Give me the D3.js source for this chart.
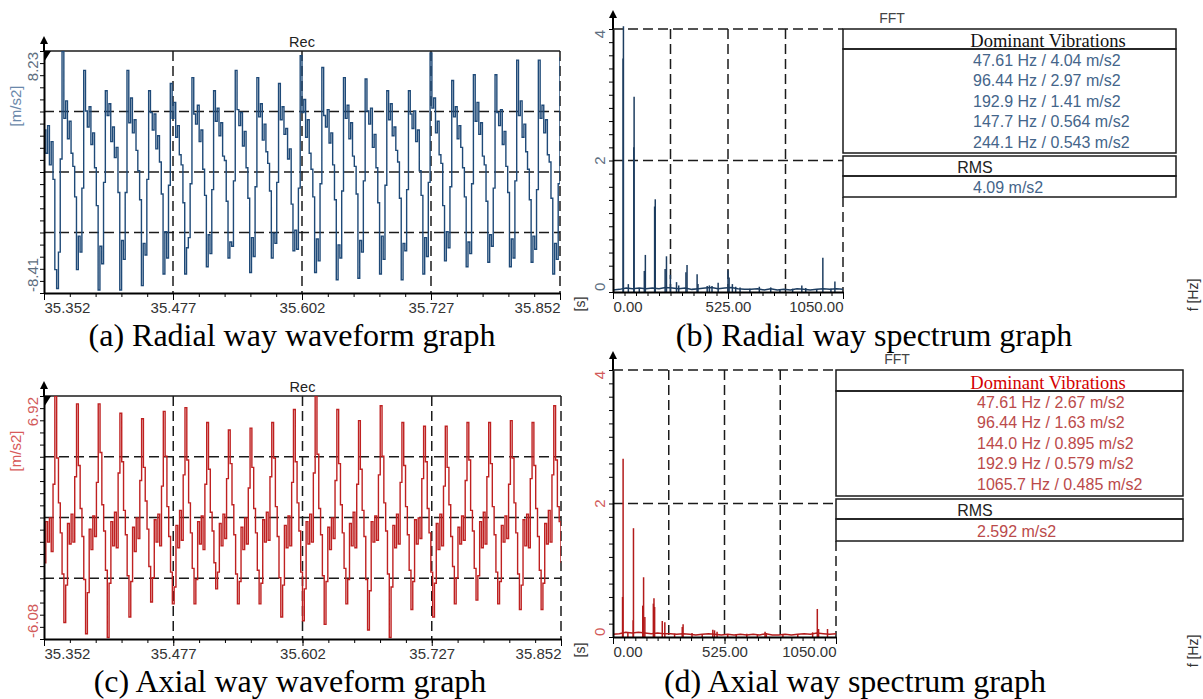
<!DOCTYPE html>
<html>
<head>
<meta charset="utf-8">
<script src="https://cdn.jsdelivr.net/npm/d3@7"></script>
<style>
  body { margin: 0; background: #fff; }
  svg { display: block; font-family: "Liberation Sans", Arial, sans-serif; }
</style>
</head>
<body>
<script>
// ---- data ----
const timeTicks = [35.352, 35.477, 35.602, 35.727, 35.852];
const freqTicks = [0, 525, 1050];

// radial acceleration, m/s2, evenly sampled over the time window
const radialWave = [
  2.8, 1.2, 3.1, 0.4, 2.0, -0.6, -6.8, -8.1, -5.6, 0.8,
  8.2, 3.6, 4.8, 2.2, 3.4, 1.2, 0.3, -1.8, -6.8, -4.5, -5.6, -1.2,
  6.9, 4.1, 3.0, 4.4, 1.8, 2.6, 0.2, -2.4, -8.2, -5.2, -6.4, -0.8,
  5.5, 3.8, 4.6, 2.0, 3.0, 0.9, 1.6, -1.5, -8.2, -4.8, -6.1, -1.5,
  6.9, 3.3, 5.0, 2.6, 3.5, 1.4, 0.0, -2.0, -7.9, -5.0, -5.8, -0.6,
  5.5, 4.0, 2.8, 3.9, 1.5, 2.4, 0.6, -1.6, -7.1, -4.2, -6.0, -1.0,
  6.0, 3.6, 4.7, 2.3, 3.1, 1.1, 0.4, -2.2, -7.1, -5.3, -4.6, -0.9,
  6.4, 3.9, 3.2, 4.5, 2.0, 2.8, 0.1, -1.7, -6.6, -4.4, -5.7, -1.3,
  5.5, 3.4, 4.3, 2.4, 3.3, 1.0, 0.7, -2.1, -6.0, -4.9, -5.2, -0.7,
  6.9, 4.2, 3.1, 4.0, 1.7, 2.7, 0.2, -1.9, -7.0, -4.6, -5.9, -1.1,
  6.4, 3.7, 4.6, 2.1, 3.2, 1.3, 0.5, -1.4, -6.0, -4.3, -5.0, -0.8,
  6.0, 3.5, 4.4, 2.5, 2.9, 0.8, 1.5, -2.3, -5.5, -4.1, -5.4, -1.2,
  7.9, 4.0, 4.9, 2.3, 3.5, 1.2, 0.1, -1.8, -7.0, -4.7, -6.2, -0.9,
  7.1, 3.8, 3.0, 4.2, 1.9, 2.6, 0.4, -2.0, -7.5, -5.1, -6.0, -1.4,
  6.4, 3.6, 4.5, 2.2, 3.3, 1.0, 0.3, -1.6, -7.4, -4.8, -5.6, -0.7,
  6.3, 4.1, 3.2, 4.3, 1.6, 2.5, 0.2, -2.2, -7.1, -4.5, -6.1, -1.0,
  5.5, 3.5, 4.6, 2.4, 3.0, 1.4, 0.6, -1.9, -7.5, -5.0, -5.5, -1.3,
  5.5, 3.9, 2.9, 4.1, 2.0, 2.8, 0.0, -1.7, -7.1, -4.6, -5.9, -0.8,
  8.1, 4.3, 5.0, 2.6, 3.4, 1.1, 0.5, -2.4, -6.2, -4.2, -5.3, -1.1,
  6.2, 3.7, 4.4, 2.2, 3.1, 1.6, 0.2, -1.8, -6.6, -4.9, -5.7, -0.9,
  6.6, 3.4, 4.7, 2.5, 3.3, 1.0, 0.4, -2.1, -6.3, -4.4, -5.2, -1.2,
  6.6, 4.0, 3.1, 4.2, 1.8, 2.7, 0.3, -1.5, -6.6, -4.7, -6.0, -0.7,
  7.6, 3.8, 4.8, 2.3, 3.2, 1.3, 0.1, -2.0, -6.3, -4.5, -5.4, -1.3,
  7.6, 3.6, 4.5, 2.6, 3.5, 1.1, 0.6, -1.9, -7.1, -5.0, -6.1, -0.9,
  7.8
];

// axial acceleration, m/s2, same sampling
const axialWave = [
  -2.0, 0.2, -0.9, 0.4, -1.4, 2.2,
  6.9, 3.6, 1.2, -0.4, -2.6, -5.2, -3.2, 0.1, -1.0, 0.6, -0.9, 2.6,
  6.5, 3.2, 0.9, -0.6, -2.9, -5.8, -3.6, -0.2, -1.3, 0.5, -0.6, 2.3,
  6.5, 3.9, 1.1, -0.3, -2.4, -6.0, -3.1, 0.2, -1.1, 0.7, -1.2, 2.8,
  6.0, 3.4, 0.8, -0.5, -2.7, -4.9, -3.0, -0.1, -1.4, 0.4, -0.7, 2.4,
  5.7, 3.1, 1.3, -0.2, -2.2, -4.1, -2.8, 0.3, -0.9, 0.6, -1.1, 2.1,
  6.1, 3.7, 1.0, -0.6, -2.5, -4.2, -3.3, 0.0, -1.2, 0.8, -0.8, 2.7,
  6.3, 3.5, 1.2, -0.4, -2.3, -4.2, -2.9, 0.2, -1.0, 0.5, -1.3, 2.2,
  5.5, 3.0, 0.7, -0.3, -2.0, -3.4, -2.5, 0.1, -1.1, 0.6, -0.7, 2.5,
  5.1, 3.3, 1.1, -0.5, -2.6, -4.2, -3.0, -0.1, -1.3, 0.4, -1.0, 2.0,
  5.2, 3.1, 0.9, -0.4, -2.4, -4.2, -3.1, 0.3, -0.9, 0.7, -0.8, 2.6,
  5.5, 3.6, 1.0, -0.6, -2.8, -4.9, -3.2, 0.0, -1.2, 0.5, -1.1, 2.3,
  6.2, 3.4, 1.2, -0.3, -2.5, -5.1, -3.4, 0.2, -1.0, 0.6, -0.9, 2.8,
  6.9, 3.8, 0.9, -0.5, -2.7, -5.3, -3.0, -0.1, -1.3, 0.4, -0.7, 2.4,
  6.2, 3.3, 1.1, -0.4, -2.3, -4.2, -2.9, 0.1, -1.1, 0.7, -1.2, 2.2,
  5.6, 3.0, 0.8, -0.6, -2.9, -5.6, -3.5, 0.2, -0.9, 0.5, -0.8, 2.7,
  6.4, 3.7, 1.2, -0.3, -2.6, -6.0, -3.3, 0.0, -1.2, 0.6, -1.0, 2.3,
  5.5, 3.2, 1.0, -0.5, -2.4, -4.5, -3.0, 0.3, -1.0, 0.4, -0.7, 2.5,
  5.3, 3.4, 0.9, -0.4, -2.5, -4.9, -3.1, 0.1, -1.3, 0.6, -1.1, 2.1,
  5.3, 3.1, 1.1, -0.6, -2.2, -4.2, -2.8, -0.1, -1.0, 0.5, -0.8, 2.4,
  5.5, 3.5, 0.8, -0.3, -2.3, -4.0, -2.7, 0.2, -1.2, 0.7, -1.0, 2.6,
  5.5, 3.3, 1.0, -0.5, -2.5, -4.2, -3.0, 0.0, -0.9, 0.5, -0.7, 2.2,
  5.6, 3.6, 1.2, -0.4, -2.6, -4.5, -3.2, 0.3, -1.1, 0.6, -1.2, 2.5,
  5.5, 3.2, 0.9, -0.6, -2.4, -4.5, -3.1, 0.1, -1.0, 0.8, -0.9, 2.7,
  6.4, 3.5, 1.0, 0.2, -2.0
];

// spectral lines: frequency (Hz) and amplitude (m/s2)
const radialPeakHz  = [46, 47.6, 70, 95, 96.4, 120, 143, 147.7, 190, 192.9, 238, 244.1, 262, 290, 300, 333, 338, 384, 388, 430, 440, 452, 480, 525, 530, 545, 560, 580, 625, 668, 720, 762, 820, 862, 880, 930, 958, 995, 1013];
const radialPeakAmp = [3.55, 4.04, 0.12, 2.2, 2.97, 0.05, 0.32, 0.564, 1.3, 1.41, 0.35, 0.543, 0.26, 0.15, 0.1, 0.3, 0.41, 0.27, 0.12, 0.09, 0.1, 0.09, 0.14, 0.33, 0.22, 0.12, 0.08, 0.07, 0.05, 0.08, 0.07, 0.04, 0.05, 0.1, 0.06, 0.04, 0.52, 0.05, 0.16];
const axialPeakHz  = [45, 47.6, 70, 95, 96.4, 140, 144, 150, 190, 192.9, 196, 232, 244, 290, 326, 330, 372, 420, 470, 478, 490, 540, 580, 630, 680, 716, 722, 800, 870, 940, 962, 968, 1010];
const axialPeakAmp = [0.6, 2.67, 0.06, 0.25, 1.63, 0.47, 0.895, 0.3, 0.5, 0.579, 0.45, 0.24, 0.22, 0.05, 0.15, 0.19, 0.06, 0.04, 0.11, 0.1, 0.08, 0.04, 0.04, 0.05, 0.04, 0.08, 0.06, 0.03, 0.04, 0.07, 0.42, 0.12, 0.12];

// noise floor, one value every 30 Hz from 0 Hz
const radialFloor = [0.03, 0.04, 0.06, 0.05, 0.06, 0.05, 0.06, 0.05, 0.07, 0.06, 0.05, 0.06, 0.04, 0.05, 0.06, 0.07, 0.05, 0.06, 0.07, 0.05, 0.04, 0.04, 0.05, 0.03, 0.05, 0.03, 0.04, 0.03, 0.05, 0.04, 0.03, 0.04, 0.05, 0.04, 0.05, 0.04];
const axialFloor  = [0.04, 0.05, 0.07, 0.06, 0.07, 0.06, 0.05, 0.06, 0.05, 0.05, 0.04, 0.05, 0.04, 0.03, 0.04, 0.05, 0.04, 0.03, 0.04, 0.03, 0.04, 0.03, 0.04, 0.03, 0.05, 0.03, 0.03, 0.04, 0.03, 0.04, 0.05, 0.04, 0.06, 0.05, 0.04, 0.05];

const radialDominant = ["47.61 Hz / 4.04 m/s2", "96.44 Hz / 2.97 m/s2", "192.9 Hz / 1.41 m/s2", "147.7 Hz / 0.564 m/s2", "244.1 Hz / 0.543 m/s2"];
const axialDominant  = ["47.61 Hz / 2.67 m/s2", "96.44 Hz / 1.63 m/s2", "144.0 Hz / 0.895 m/s2", "192.9 Hz / 0.579 m/s2", "1065.7 Hz / 0.485 m/s2"];
const radialRms = "4.09 m/s2";
const axialRms = "2.592 m/s2";
const captions = ["(a) Radial way waveform graph", "(b) Radial way spectrum graph", "(c) Axial way waveform graph", "(d) Axial way spectrum graph"];

// ---- drawing ----
const svg = d3.select('body').append('svg').attr('width', 1203).attr('height', 699);
const gridColor = '#1b1b1b';

function dashed(sel) {
  return sel.attr('stroke', gridColor).attr('stroke-width', 1.5).attr('stroke-dasharray', '10,5');
}

function axisArrow(g, x, top, tip) {
  g.append('line').attr('x1', x).attr('x2', x).attr('y1', tip + 6).attr('y2', top).attr('stroke', '#000').attr('stroke-width', 2);
  g.append('path').attr('d', `M${x},${tip} L${x - 4},${tip + 8} L${x + 4},${tip + 8} Z`).attr('fill', '#000');
}

function rotLabel(g, text, x, y, anchor, size, color) {
  return g.append('text').text(text)
    .attr('x', x).attr('y', y)
    .attr('transform', `rotate(-90,${x},${y})`)
    .attr('text-anchor', anchor)
    .attr('font-size', size)
    .attr('fill', color);
}

function drawWave(cfg) {
  const g = svg.append('g');
  const t0 = timeTicks[0], t1 = timeTicks[timeTicks.length - 1];
  const x = d3.scaleLinear().domain([t0, t1]).range([cfg.left, cfg.right]);
  const y = d3.scaleLinear().domain([cfg.yMin, cfg.yMax]).range([cfg.bottom, cfg.top]);
  const dt = (t1 - t0) / (cfg.values.length - 1);
  const pts = cfg.values.map((v, i) => [t0 + i * dt, v]);

  const quarters = d3.range(1, 4).map(i => cfg.yMin + i * (cfg.yMax - cfg.yMin) / 4);
  dashed(g.selectAll('.hg').data(quarters).join('line')
    .attr('x1', cfg.left).attr('x2', cfg.right)
    .attr('y1', d => y(d)).attr('y2', d => y(d)));
  dashed(g.selectAll('.vg').data(timeTicks.slice(1)).join('line')
    .attr('x1', d => x(d)).attr('x2', d => x(d))
    .attr('y1', cfg.top).attr('y2', cfg.bottom));
  g.append('line').attr('x1', cfg.left).attr('x2', cfg.right)
    .attr('y1', cfg.top).attr('y2', cfg.top).attr('stroke', gridColor).attr('stroke-width', 1.5);

  const clipId = 'clip' + cfg.id;
  svg.append('clipPath').attr('id', clipId).append('rect')
    .attr('x', cfg.left).attr('y', cfg.top).attr('width', cfg.right - cfg.left).attr('height', cfg.bottom - cfg.top);

  const line = d3.line().x(d => x(d[0])).y(d => y(d[1])).curve(d3.curveStepAfter);
  g.append('path').datum(pts)
    .attr('clip-path', `url(#${clipId})`)
    .attr('d', line)
    .attr('fill', 'none')
    .attr('stroke', cfg.color)
    .attr('stroke-width', 1.4);

  // bottom axis
  const minorT = d3.range(0, 21).map(i => t0 + i * (t1 - t0) / 20);
  g.append('g').attr('transform', `translate(0,${cfg.bottom})`)
    .call(d3.axisBottom(x).tickValues(minorT).tickSize(4).tickFormat(''))
    .call(a => a.select('.domain').remove());
  const xa = g.append('g').attr('transform', `translate(0,${cfg.bottom})`)
    .call(d3.axisBottom(x).tickValues(timeTicks).tickSize(7).tickSizeOuter(0).tickFormat(d3.format('.3f')));
  xa.select('.domain').attr('stroke-width', 2);
  xa.selectAll('text')
    .attr('y', 20).attr('dy', 0)
    .attr('font-size', 15).attr('fill', '#333')
    .attr('font-family', '"Liberation Sans", Arial, sans-serif')
    .attr('text-anchor', (d, i) => i === 0 ? 'start' : (i === timeTicks.length - 1 ? 'end' : 'middle'));

  // left axis
  const minorY = d3.range(0, 21).map(i => cfg.yMin + i * (cfg.yMax - cfg.yMin) / 20);
  const ya = g.append('g').attr('transform', `translate(${cfg.left},0)`)
    .call(d3.axisLeft(y).tickValues(minorY).tickSize(4).tickSizeOuter(0).tickFormat(''));
  ya.select('.domain').attr('stroke-width', 2);

  axisArrow(g, cfg.left, cfg.top, cfg.top - 15);
  g.append('path').attr('d', `M${cfg.left},${cfg.top} L${cfg.left + 7},${cfg.top} L${cfg.left},${cfg.top + 11} Z`).attr('fill', '#000');

  rotLabel(g, cfg.yLabels[0], cfg.left - 6, cfg.top + 1, 'end', 15, cfg.labelColor);
  rotLabel(g, cfg.yLabels[1], cfg.left - 6, cfg.bottom - 1, 'start', 15, cfg.labelColor);
  rotLabel(g, '[m/s2]', 21, cfg.top + 55, 'middle', 15, cfg.unitColor);
  rotLabel(g, '[s]', 585, cfg.bottom + 11, 'middle', 14, '#333');

  g.append('text').text('Rec').attr('x', (cfg.left + cfg.right) / 2).attr('y', cfg.top - 4)
    .attr('text-anchor', 'middle').attr('font-size', 14.5).attr('fill', '#222');
}

function drawSpectrum(cfg) {
  const g = svg.append('g');
  const x = d3.scaleLinear().domain([0, 1050]).range([cfg.left, cfg.right]);
  const y = d3.scaleLinear().domain([0, 4]).range([cfg.bottom, cfg.top]);

  dashed(g.selectAll('.hg').data([2, 4]).join('line')
    .attr('x1', cfg.left).attr('x2', cfg.right)
    .attr('y1', d => y(d)).attr('y2', d => y(d)));
  dashed(g.selectAll('.vg').data([262.5, 525, 787.5, 1050]).join('line')
    .attr('x1', d => x(d)).attr('x2', d => x(d))
    .attr('y1', d => d === 1050 ? cfg.tableBottom : cfg.top).attr('y2', cfg.bottom));

  // noise floor and spectral lines
  const floorPts = cfg.floor.map((a, i) => [i * 30, a]);
  g.append('path').datum(floorPts)
    .attr('d', d3.line().x(d => x(d[0])).y(d => y(d[1])))
    .attr('fill', 'none').attr('stroke', cfg.color).attr('stroke-width', 1.5);
  const peaks = cfg.hz.map((f, i) => ({ f, a: cfg.amp[i] }));
  g.selectAll('.stem').data(peaks).join('line')
    .attr('x1', d => x(d.f)).attr('x2', d => x(d.f))
    .attr('y1', y(0)).attr('y2', d => y(d.a))
    .attr('stroke', cfg.color).attr('stroke-width', 1.5);

  // axes
  const minorF = d3.range(0, 21).map(i => i * 52.5);
  g.append('g').attr('transform', `translate(0,${cfg.bottom})`)
    .call(d3.axisBottom(x).tickValues(minorF).tickSize(4).tickFormat(''))
    .call(a => a.select('.domain').remove());
  const xa = g.append('g').attr('transform', `translate(0,${cfg.bottom})`)
    .call(d3.axisBottom(x).tickValues(freqTicks).tickSize(7).tickSizeOuter(0).tickFormat(d3.format('.2f')));
  xa.select('.domain').attr('stroke-width', 2);
  xa.selectAll('text')
    .attr('y', 20).attr('dy', 0)
    .attr('font-size', 15).attr('fill', '#333')
    .attr('font-family', '"Liberation Sans", Arial, sans-serif')
    .attr('text-anchor', (d, i) => i === 0 ? 'start' : (i === freqTicks.length - 1 ? 'end' : 'middle'));

  const minorA = d3.range(0, 21).map(i => i * 0.2);
  const ya = g.append('g').attr('transform', `translate(${cfg.left},0)`)
    .call(d3.axisLeft(y).tickValues(minorA).tickSize(4).tickSizeOuter(0).tickFormat(''));
  ya.select('.domain').attr('stroke-width', 2);
  axisArrow(g, cfg.left, cfg.top, cfg.top - 19);

  rotLabel(g, '4', cfg.left - 8, cfg.top + 1, 'end', 15, cfg.labelColor);
  rotLabel(g, '2', cfg.left - 8, y(2), 'middle', 15, cfg.labelColor);
  rotLabel(g, '0', cfg.left - 8, cfg.bottom - 1, 'start', 15, cfg.labelColor);
  rotLabel(g, 'f [Hz]', 1198, cfg.top + cfg.hzLabelDy, 'middle', 14, '#333');

  g.append('text').text('FFT').attr('x', cfg.fftX).attr('y', cfg.top - 6)
    .attr('text-anchor', 'middle').attr('font-size', 14).attr('fill', '#444');

  // result table
  const tl = cfg.tableLeft, tw = cfg.tableRight - cfg.tableLeft;
  const boxes = [
    [cfg.top, cfg.headBottom], [cfg.headBottom, cfg.listBottom],
    [cfg.rmsTop, cfg.rmsBottom], [cfg.rmsBottom, cfg.tableBottom]
  ];
  g.selectAll('.box').data(boxes).join('rect')
    .attr('x', tl).attr('y', d => d[0]).attr('width', tw).attr('height', d => d[1] - d[0])
    .attr('fill', 'none').attr('stroke', '#1a1a1a').attr('stroke-width', 1.5);

  g.append('text').text('Dominant Vibrations')
    .attr('x', 1048).attr('y', cfg.headBottom - 2.5)
    .attr('text-anchor', 'middle')
    .attr('font-family', '"Liberation Serif", "Times New Roman", serif')
    .attr('font-size', 18.5).attr('fill', cfg.headColor);
  g.selectAll('.dom').data(cfg.dominant).join('text')
    .text(d => d)
    .attr('x', cfg.valueX).attr('y', (d, i) => cfg.headBottom + 16.5 + i * 20.6)
    .attr('font-size', 16).attr('fill', cfg.valueColor);
  g.append('text').text('RMS').attr('x', 975).attr('y', cfg.rmsBottom - 3.5)
    .attr('text-anchor', 'middle').attr('font-size', 16).attr('fill', '#222');
  g.append('text').text(cfg.rms).attr('x', cfg.valueX).attr('y', cfg.tableBottom - 4.5)
    .attr('font-size', 16).attr('fill', cfg.valueColor);
}

drawWave({ id: 'a', values: radialWave, left: 44, right: 560, top: 51, bottom: 293,
  yMin: -8.41, yMax: 8.23, yLabels: ['8.23', '-8.41'],
  color: '#1f4a78', labelColor: '#5d6e80', unitColor: '#6a88aa' });
drawWave({ id: 'c', values: axialWave, left: 44, right: 561, top: 396, bottom: 639,
  yMin: -6.08, yMax: 6.92, yLabels: ['6.92', '-6.08'],
  color: '#bf2121', labelColor: '#d25a5a', unitColor: '#d85b5b' });

drawSpectrum({ hz: radialPeakHz, amp: radialPeakAmp, floor: radialFloor,
  left: 613, right: 843, top: 29, bottom: 292, color: '#1d3d60', labelColor: '#5d6e80',
  tableLeft: 843, tableRight: 1176, headBottom: 49, listBottom: 153, rmsTop: 156, rmsBottom: 176, tableBottom: 197,
  dominant: radialDominant, rms: radialRms, headColor: '#111', valueColor: '#44658a', valueX: 973,
  fftX: 892, hzLabelDy: 266 });
drawSpectrum({ hz: axialPeakHz, amp: axialPeakAmp, floor: axialFloor,
  left: 613, right: 836, top: 370, bottom: 637, color: '#b31b1b', labelColor: '#d25a5a',
  tableLeft: 836, tableRight: 1183, headBottom: 391, listBottom: 496, rmsTop: 499, rmsBottom: 519, tableBottom: 541,
  dominant: axialDominant, rms: axialRms, headColor: '#d40000', valueColor: '#bb4a4a', valueX: 977,
  fftX: 897, hzLabelDy: 281 });

// captions
const capPos = [[292, 346], [874, 346], [290, 692], [855, 692]];
svg.selectAll('.cap').data(captions).join('text')
  .text(d => d)
  .attr('x', (d, i) => capPos[i][0]).attr('y', (d, i) => capPos[i][1])
  .attr('text-anchor', 'middle')
  .attr('font-family', '"Liberation Serif", "Times New Roman", serif')
  .attr('font-size', 32).attr('fill', '#000');
</script>
</body>
</html>
